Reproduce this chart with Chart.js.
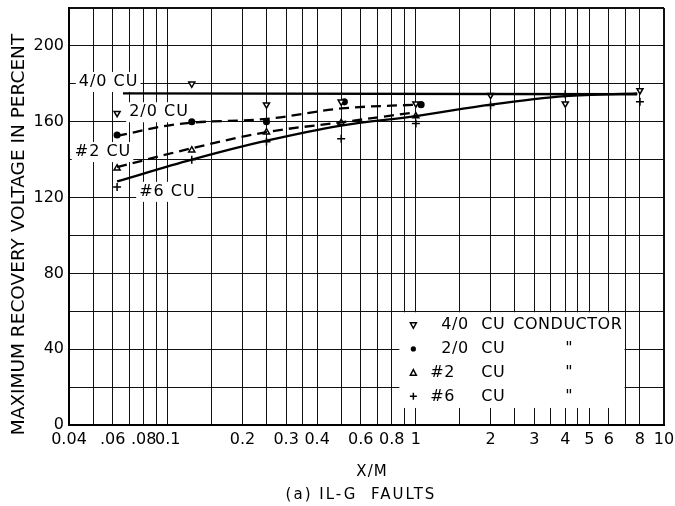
<!DOCTYPE html>
<html lang="en">
<head>
<meta charset="UTF-8">
<title>Maximum recovery voltage - 1L-G faults</title>
<script src="https://cdn.jsdelivr.net/npm/chart.js"></script>
<style>
  body, html { margin: 0; background: #fff; }
  .wrap { width: 675px; height: 506px; position: relative; }
</style>
</head>
<body>
<div class="wrap"><canvas id="rvChart"></canvas></div>
<script>
// X/M values of the test runs
const testX = [0.0625, 0.125, 0.25, 0.5, 1, 2, 4, 8];

// measured points, percent
const pts40 = [164.5, 180, 169, 170.5, 169.5, 174, 169.5, 176.5];
const x20 = [0.0625, 0.125, 0.25, 0.515, 1.05];
const pts20 = [153, 160, 160, 170.5, 169];
const x2 = [0.0625, 0.125, 0.25, 0.5, 1];
const pts2 = [135.5, 145, 154.5, 159.5, 163];
const pts6 = [125.5, 140, 149.5, 151, 159, 168.5, 174.5, 170.5];

// faired curves through the points
const fitX40 = [0.066, 7.8];
const fit40 = [175, 174.5];
const fitX20 = [0.0625, 0.1, 0.125, 0.25, 0.5, 1];
const fit20 = [152.5, 158, 159.5, 161.5, 167, 169];
const fitX2 = [0.0625, 0.125, 0.25, 0.5, 1];
const fit2 = [136, 146, 154.5, 159.7, 165];
const fitX6 = [0.0625, 0.125, 0.25, 0.5, 1, 2, 4, 7.8];
const fit6 = [128.5, 140, 150, 158, 163, 169, 173.5, 175];

// log paper rulings and the ones that carry a number
const gridX = [0.04, 0.05, 0.06, 0.07, 0.08, 0.09, 0.1, 0.15, 0.2, 0.25, 0.3, 0.35, 0.4,
               0.5, 0.6, 0.7, 0.8, 0.9, 1, 1.5, 2, 2.5, 3, 3.5, 4, 4.5, 5, 6, 7, 8, 10];
const tickText = { 0.04: '0.04', 0.06: '.06', 0.08: '.08', 0.1: '0.1', 0.2: '0.2', 0.3: '0.3',
                   0.4: '0.4', 0.6: '0.6', 0.8: '0.8', 1: '1', 2: '2', 3: '3', 4: '4',
                   5: '5', 6: '6', 8: '8', 10: '10' };

// curve names written on the plot
const curveLabels = [
  { text: '4/0 CU', x: 0.0438, y: 181 },
  { text: '2/0 CU', x: 0.0699, y: 165 },
  { text: '#2 CU', x: 0.0422, y: 144 },
  { text: '#6 CU', x: 0.0767, y: 123 }
];
const legendMarks = ['tri-down', 'dot', 'tri-up', 'plus'];
const legendNames = ['4/0', '2/0', '#2', '#6'];

const FONT = '"DejaVu Sans", sans-serif';

function pairs(xs, ys) { return xs.map((x, i) => ({ x: x, y: ys[i] })); }

function drawMark(ctx, kind, x, y) {
  ctx.beginPath();
  if (kind === 'dot') {
    ctx.arc(x, y, 2.6, 0, Math.PI * 2);
    ctx.fill();
    return;
  }
  if (kind === 'plus') {
    ctx.moveTo(x - 3.5, y); ctx.lineTo(x + 3.5, y);
    ctx.moveTo(x, y - 3.5); ctx.lineTo(x, y + 3.5);
  } else {
    const s = kind === 'tri-down' ? 1 : -1;
    ctx.moveTo(x - 3, y - 2.5 * s); ctx.lineTo(x + 3, y - 2.5 * s); ctx.lineTo(x, y + 3 * s);
    ctx.closePath();
  }
  ctx.stroke();
}

const paperText = {
  id: 'paperText',
  beforeDatasetsDraw(chart) {
    const { ctx, scales: { x, y } } = chart;
    ctx.save();
    ctx.textBaseline = 'middle';
    ctx.font = '16px ' + FONT;
    ctx.letterSpacing = '1px';
    curveLabels.forEach(l => {
      const px = x.getPixelForValue(l.x), py = y.getPixelForValue(l.y);
      const w = ctx.measureText(l.text).width;
      ctx.fillStyle = '#fff';
      ctx.fillRect(px - 3, py - 10, w + 5, 20);
      ctx.fillStyle = '#000';
      ctx.fillText(l.text, px, py);
    });

    // key box, lower right
    const bl = x.getPixelForValue(0.85), br = x.getPixelForValue(7);
    const bt = y.getPixelForValue(60), bb = y.getPixelForValue(9);
    ctx.fillStyle = '#fff';
    ctx.fillRect(bl + 1, bt + 1, br - bl - 2, bb - bt - 1);
    ctx.fillStyle = '#000';
    ctx.strokeStyle = '#000';
    ctx.lineWidth = 1.5;
    ctx.letterSpacing = '0.5px';
    legendNames.forEach((name, i) => {
      const ry = bt + 14 + i * 23.7;
      drawMark(ctx, legendMarks[i], bl + 15, ry);
      ctx.fillText(name, bl + (name[0] === '#' ? 32 : 43), ry);
      ctx.fillText('CU', bl + 83, ry);
      if (i === 0) ctx.fillText('CONDUCTOR', bl + 115, ry);
      else ctx.fillText('"', bl + 167, ry);
    });
    ctx.restore();
  },
  afterDraw(chart) {
    const { ctx } = chart;
    ctx.save();
    ctx.fillStyle = '#000';
    ctx.textAlign = 'center';
    ctx.textBaseline = 'middle';
    ctx.font = '18.5px ' + FONT;
    ctx.translate(19.5, 234.5);
    ctx.rotate(-Math.PI / 2);
    ctx.fillText('MAXIMUM RECOVERY VOLTAGE IN PERCENT', 0, 0);
    ctx.restore();

    ctx.save();
    ctx.fillStyle = '#000';
    ctx.textAlign = 'center';
    ctx.textBaseline = 'middle';
    ctx.font = '15px ' + FONT;
    ctx.letterSpacing = '1px';
    ctx.fillText('X/M', 372, 472);
    ctx.letterSpacing = '2px';
    ctx.fillText('(a) IL-G  FAULTS', 361, 495);
    ctx.restore();
  }
};

const curveStyle = { showLine: true, pointRadius: 0, borderColor: '#000', borderWidth: 2.3,
                     cubicInterpolationMode: 'monotone', fill: false };
const markStyle = { showLine: false, borderColor: '#000', borderWidth: 1.5, pointRadius: 3.5 };

new Chart(document.getElementById('rvChart'), {
  type: 'scatter',
  data: {
    datasets: [
      Object.assign({ label: '4/0 CU fit', data: pairs(fitX40, fit40) }, curveStyle),
      Object.assign({ label: '2/0 CU fit', data: pairs(fitX20, fit20), borderDash: [10, 6] }, curveStyle),
      Object.assign({ label: '#2 CU fit', data: pairs(fitX2, fit2), borderDash: [10, 6] }, curveStyle),
      Object.assign({ label: '#6 CU fit', data: pairs(fitX6, fit6) }, curveStyle),
      Object.assign({ label: '4/0 CU', data: pairs(testX, pts40), pointStyle: 'triangle',
                      rotation: 180, backgroundColor: '#fff' }, markStyle),
      Object.assign({ label: '2/0 CU', data: pairs(x20, pts20), pointStyle: 'circle',
                      backgroundColor: '#000' }, markStyle, { pointRadius: 2.8 }),
      Object.assign({ label: '#2 CU', data: pairs(x2, pts2), pointStyle: 'triangle',
                      backgroundColor: '#fff' }, markStyle),
      Object.assign({ label: '#6 CU', data: pairs(testX, pts6), pointStyle: 'cross' }, markStyle, { pointRadius: 4 })
    ]
  },
  options: {
    responsive: true,
    maintainAspectRatio: false,
    animation: false,
    layout: { padding: { top: 8, right: 11, left: 0, bottom: 0 } },
    plugins: { legend: { display: false }, tooltip: { enabled: false } },
    scales: {
      x: {
        type: 'logarithmic',
        min: 0.04,
        max: 10,
        afterBuildTicks(s) { s.ticks = gridX.map(v => ({ value: v })); },
        afterFit(s) { s.height = 81; s.paddingLeft = 0; s.paddingRight = 0; },
        ticks: {
          autoSkip: false, maxRotation: 0, minRotation: 0, padding: 5, color: '#000',
          font: { family: FONT, size: 16 },
          callback: v => tickText[v] || ''
        },
        grid: { color: '#111', drawTicks: false,
                lineWidth: c => (c.tick && c.tick.value === 10) ? 2 : 1 },
        border: { color: '#000', width: 2 }
      },
      y: {
        min: 0,
        max: 220,
        afterFit(s) { s.width = 69; s.paddingTop = 0; s.paddingBottom = 0; },
        ticks: {
          stepSize: 20, padding: 5, color: '#000',
          font: { family: FONT, size: 16 },
          callback: v => (v % 40 === 0 && v <= 200) ? v : ''
        },
        grid: { color: '#111', drawTicks: false,
                lineWidth: c => (c.tick && c.tick.value === 220) ? 2 : 1 },
        border: { color: '#000', width: 2 }
      }
    }
  },
  plugins: [paperText]
});
</script>
</body>
</html>
